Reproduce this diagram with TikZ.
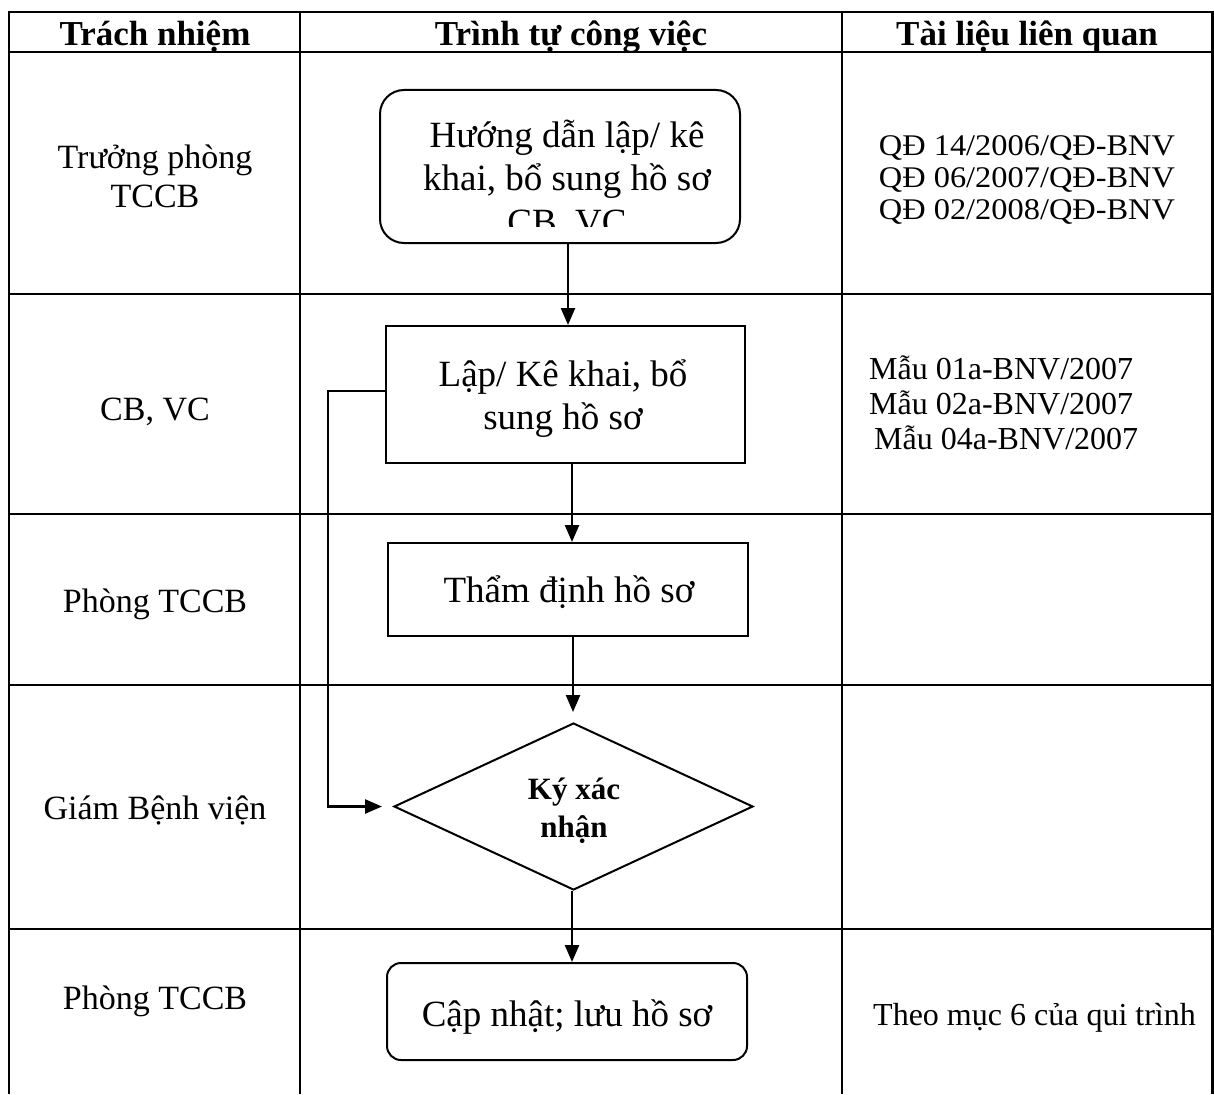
\documentclass[tikz,border=0pt]{standalone}
\usepackage{fontspec}
\setmainfont{Liberation Serif}
\newfontfamily\widefont[FakeStretch=1.08]{Liberation Serif}
\usetikzlibrary{arrows.meta,shapes.geometric}
\newcommand\fsz[2]{\fontsize{#1}{#2}\selectfont}
\newcommand\mlines[1]{\vtop{\lineskiplimit=-1000pt\relax\halign{\hfil##\hfil\cr#1\crcr}}}
\newcommand\mlinesl[1]{\vtop{\lineskiplimit=-1000pt\relax\halign{##\hfil\cr#1\crcr}}}
\begin{document}
\begin{tikzpicture}[x=1pt,y=-1pt,
  grid/.style={line width=2.3pt},
  gridthick/.style={line width=2.8pt},
  shp/.style={draw,line width=2pt,inner sep=0pt},
  flow/.style={line width=2.5pt,-{Triangle[length=17pt,width=14pt]}},
  txt/.style={inner sep=0pt,anchor=base},
  hdr/.style={txt,font=\bfseries\fsz{35}{40}},
  lft/.style={txt,font=\fsz{34}{39}},
  rgt/.style={txt,font=\fsz{32}{35}},
  box/.style={txt,font=\fsz{37}{43}},
]
\useasboundingbox (0,0) rectangle (1214,1094);
\fill[white] (0,0) rectangle (1214,1094);

% table
\draw[gridthick] (9,12) -- (1213,12);
\draw[gridthick] (9,52) -- (1213,52);
\draw[grid] (9,294) -- (1213,294);
\draw[grid] (9,514) -- (1213,514);
\draw[grid] (9,685) -- (1213,685);
\draw[grid] (9,929) -- (1213,929);
\draw[grid] (9,11) -- (9,1094);
\draw[grid] (300,11) -- (300,1094);
\draw[grid] (842,11) -- (842,1094);
\draw[grid] (1212.5,11) -- (1212.5,1094);

% header
\node[hdr] (h1) at (155,46) {Trách nhiệm};
\node[hdr] (h2) at (571,46) {Trình tự công việc};
\node[hdr] (h3) at (1027,46) {Tài liệu liên quan};

% left column
\node[lft] (r1) at (155,168) {\mlines{Trưởng phòng\cr TCCB}};
\node[lft] (r2) at (155,420) {CB, VC};
\node[lft] (r3) at (155,612) {Phòng TCCB};
\node[lft] (r4) at (155,819) {Giám Bệnh viện};
\node[lft] (r5) at (155,1009) {Phòng TCCB};

% right column
\node[txt,font=\widefont\fsz{30}{32}] (d1) at (1027,156) {\mlines{QĐ 14/2006/QĐ-BNV\cr QĐ 06/2007/QĐ-BNV\cr QĐ 02/2008/QĐ-BNV}};
\node[rgt,anchor=base west] (d2) at (869,379) {\mlinesl{Mẫu 01a-BNV/2007\cr Mẫu 02a-BNV/2007\cr\hspace{5pt}Mẫu 04a-BNV/2007}};
\node[txt,font=\fsz{32}{37}] (d5) at (1034.5,1025) {Theo mục 6 của qui trình};

% flow shapes
\node[shp,rounded corners=24pt,minimum width=360pt,minimum height=153pt] (b1) at (560,166.5) {};
\begin{scope}
  \clip (380,90) rectangle (740,226);
  \node[box] (t1) at (567,148) {\mlines{Hướng dẫn lập/ kê\cr khai, bổ sung hồ sơ\cr CB, VC}};
\end{scope}
\node[shp,minimum width=359pt,minimum height=137pt] (b2) at (565.5,394.5) {};
\node[box] (t2) at (563,386) {\mlines{Lập/ Kê khai, bổ\cr sung hồ sơ}};
\node[shp,minimum width=360pt,minimum height=93pt] (b3) at (568,589.5) {};
\node[box] (t3) at (569,602) {Thẩm định hồ sơ};
\node[shp,diamond,minimum width=359pt,minimum height=167pt] (d) at (573.5,806.5) {};
\node[txt,font=\bfseries\fsz{31}{38}] (td) at (574,799) {\mlines{Ký xác\cr nhận}};
\node[shp,rounded corners=14pt,minimum width=360pt,minimum height=97pt] (b5) at (567,1011.5) {};
\node[box] (t5) at (567,1026) {Cập nhật; lưu hồ sơ};

% connectors
\draw[flow] ([xshift=8pt]b1.south) -- ([xshift=2.5pt]b2.north);
\draw[flow] ([xshift=6.5pt]b2.south) -- ([xshift=4pt]b3.north);
\draw[flow,shorten >=10pt] ([xshift=5pt]b3.south) -- ([xshift=-0.5pt]d.north);
\draw[flow] ([xshift=-1.5pt]d.south) -- ([xshift=5pt]b5.north);
\draw[flow,shorten >=11pt] ([yshift=3.5pt]b2.west) -- ++(-57,0) |- (d.west);
\end{tikzpicture}
\end{document}
